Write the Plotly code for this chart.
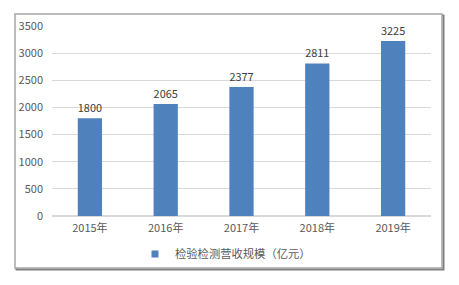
import plotly.graph_objects as go

categories = ["2015年", "2016年", "2017年", "2018年", "2019年"]
values = [1800, 2065, 2377, 2811, 3225]
series_name = "检验检测营收规模（亿元）"
y_ticks = [0, 500, 1000, 1500, 2000, 2500, 3000, 3500]

W, H = 459, 285
L, R, T, B = 52, 28, 26, 69
pw, ph = W - L - R, H - T - B

def px(x):
    return (x - L) / pw

def py(y):
    return (H - B - y) / ph

font = "Noto Sans CJK SC, Microsoft YaHei, sans-serif"
bar_color = "#4F81BD"

fig = go.Figure()
fig.add_trace(go.Bar(
    x=categories, y=values, name=series_name,
    marker=dict(color=bar_color, line=dict(width=0)),
    text=[str(v) for v in values], textposition="outside",
    textfont=dict(size=11, color="#404040", family=font),
    cliponaxis=False, showlegend=False, legendgroup="s",
))
# legend entry with a small square swatch
fig.add_trace(go.Scatter(
    x=[None], y=[None], mode="markers", name=series_name, legendgroup="s",
    marker=dict(symbol="square", size=7, color=bar_color),
    showlegend=True,
))

shapes = [
    # shadow
    dict(type="rect", xref="paper", yref="paper",
         x0=px(16.5), x1=px(443.5), y0=py(269.5), y1=py(15.5),
         line=dict(color="#808080", width=2), fillcolor="rgba(0,0,0,0)", layer="below"),
    # frame
    dict(type="rect", xref="paper", yref="paper",
         x0=px(15), x1=px(442), y0=py(268), y1=py(14),
         line=dict(color="#a6a6a6", width=1.5), fillcolor="white", layer="below"),
]

fig.update_layout(
    width=W, height=H,
    margin=dict(l=L, r=R, t=T, b=B),
    paper_bgcolor="white", plot_bgcolor="rgba(0,0,0,0)",
    bargap=0.68,
    shapes=shapes,
    font=dict(family=font, color="#595959", size=11),
    legend=dict(orientation="h", x=px(135), xanchor="left", y=py(254), yanchor="middle",
                font=dict(size=11.3, color="#595959"), bgcolor="rgba(0,0,0,0)",
                itemwidth=30),
    yaxis=dict(range=[0, 3500], tickvals=y_ticks, showgrid=True, gridcolor="#d9d9d9",
               gridwidth=1, zeroline=True, zerolinecolor="#d9d9d9", showline=False,
               ticks="", ticklabelstandoff=8, tickfont=dict(size=11, color="#595959")),
    xaxis=dict(showline=False, ticks="", tickfont=dict(size=11, color="#595959"),
               ticklabelstandoff=4),
)

fig.write_html("out.html")
